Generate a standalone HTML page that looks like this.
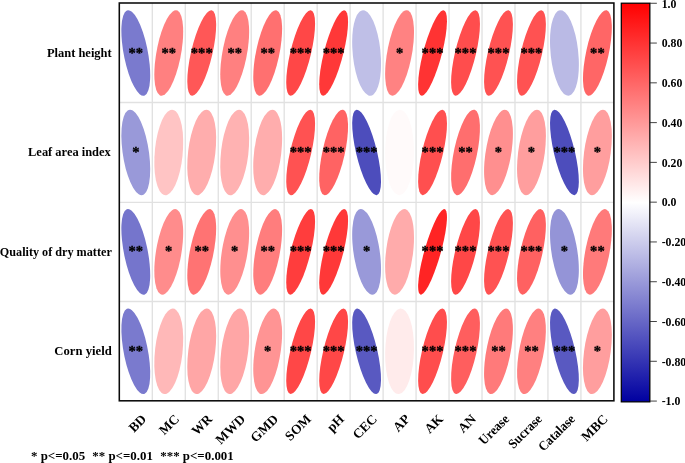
<!DOCTYPE html>
<html><head><meta charset="utf-8"><title>Correlation plot</title><style>html,body{margin:0;padding:0;background:#fff}body{width:685px;height:463px;overflow:hidden}</style></head><body>
<svg width="685" height="463" viewBox="0 0 685 463" style="display:block">
<rect width="685" height="463" fill="#fff"/>
<path d="M152.27 3.0V400.8M185.25 3.0V400.8M218.22 3.0V400.8M251.19 3.0V400.8M284.17 3.0V400.8M317.14 3.0V400.8M350.11 3.0V400.8M383.09 3.0V400.8M416.06 3.0V400.8M449.03 3.0V400.8M482.01 3.0V400.8M514.98 3.0V400.8M547.95 3.0V400.8M580.93 3.0V400.8" stroke="#dcdcdc" stroke-width="1.15" fill="none"/>
<path d="M119.3 102.55H613.9M119.3 202.35H613.9M119.3 301.50H613.9" stroke="#e1e1e1" stroke-width="1.4" fill="none"/>
<circle r="1" transform="matrix(7.067 -20.950 -12.576 -37.280 135.79 52.98)" fill="rgb(122,122,206)"/>
<circle r="1" transform="matrix(12.493 -37.034 -7.213 -21.382 168.76 52.98)" fill="rgb(255,128,128)"/>
<circle r="1" transform="matrix(13.123 -38.901 -5.991 -17.761 201.73 52.98)" fill="rgb(255,87,87)"/>
<circle r="1" transform="matrix(12.493 -37.034 -7.213 -21.382 234.71 52.98)" fill="rgb(255,128,128)"/>
<circle r="1" transform="matrix(12.741 -37.768 -6.766 -20.058 267.68 52.98)" fill="rgb(255,112,112)"/>
<circle r="1" transform="matrix(13.241 -39.252 -5.725 -16.971 300.65 52.98)" fill="rgb(255,71,71)"/>
<circle r="1" transform="matrix(13.417 -39.772 -5.300 -15.712 333.63 52.98)" fill="rgb(255,56,56)"/>
<circle r="1" transform="matrix(8.834 -26.187 -11.405 -33.808 366.60 52.98)" fill="rgb(191,191,231)"/>
<circle r="1" transform="matrix(12.451 -36.911 -7.285 -21.595 399.57 52.98)" fill="rgb(255,130,130)"/>
<circle r="1" transform="matrix(13.494 -40.002 -5.100 -15.119 432.55 52.98)" fill="rgb(255,51,51)"/>
<circle r="1" transform="matrix(13.202 -39.135 -5.815 -17.239 465.52 52.98)" fill="rgb(255,77,77)"/>
<circle r="1" transform="matrix(13.162 -39.018 -5.904 -17.502 498.49 52.98)" fill="rgb(255,82,82)"/>
<circle r="1" transform="matrix(13.162 -39.018 -5.904 -17.502 531.47 52.98)" fill="rgb(255,82,82)"/>
<circle r="1" transform="matrix(8.715 -25.836 -11.495 -34.077 564.44 52.98)" fill="rgb(186,186,229)"/>
<circle r="1" transform="matrix(12.903 -38.249 -6.451 -19.124 597.41 52.98)" fill="rgb(255,102,102)"/>
<circle r="1" transform="matrix(7.901 -23.423 -12.070 -35.779 135.79 152.43)" fill="rgb(153,153,217)"/>
<circle r="1" transform="matrix(11.313 -33.536 -8.951 -26.534 168.76 152.43)" fill="rgb(255,196,196)"/>
<circle r="1" transform="matrix(11.720 -34.741 -8.412 -24.935 201.73 152.43)" fill="rgb(255,173,173)"/>
<circle r="1" transform="matrix(11.630 -34.477 -8.534 -25.299 234.71 152.43)" fill="rgb(255,178,178)"/>
<circle r="1" transform="matrix(11.720 -34.741 -8.412 -24.935 267.68 152.43)" fill="rgb(255,173,173)"/>
<circle r="1" transform="matrix(13.162 -39.018 -5.904 -17.502 300.65 152.43)" fill="rgb(255,82,82)"/>
<circle r="1" transform="matrix(12.943 -38.368 -6.370 -18.884 333.63 152.43)" fill="rgb(255,99,99)"/>
<circle r="1" transform="matrix(5.815 -17.239 -13.202 -39.135 366.60 152.43)" fill="rgb(77,77,188)"/>
<circle r="1" transform="matrix(10.302 -30.539 -10.098 -29.934 399.57 152.43)" fill="rgb(255,250,250)"/>
<circle r="1" transform="matrix(13.182 -39.077 -5.860 -17.371 432.55 152.43)" fill="rgb(255,79,79)"/>
<circle r="1" transform="matrix(12.781 -37.889 -6.689 -19.829 465.52 152.43)" fill="rgb(255,110,110)"/>
<circle r="1" transform="matrix(12.241 -36.286 -7.633 -22.628 498.49 152.43)" fill="rgb(255,143,143)"/>
<circle r="1" transform="matrix(11.983 -35.522 -8.032 -23.810 531.47 152.43)" fill="rgb(255,158,158)"/>
<circle r="1" transform="matrix(5.815 -17.239 -13.202 -39.135 564.44 152.43)" fill="rgb(77,77,188)"/>
<circle r="1" transform="matrix(11.983 -35.522 -8.032 -23.810 597.41 152.43)" fill="rgb(255,158,158)"/>
<circle r="1" transform="matrix(6.918 -20.509 -12.659 -37.525 135.79 251.88)" fill="rgb(117,117,204)"/>
<circle r="1" transform="matrix(12.283 -36.412 -7.565 -22.425 168.76 251.88)" fill="rgb(255,140,140)"/>
<circle r="1" transform="matrix(12.700 -37.646 -6.843 -20.285 201.73 251.88)" fill="rgb(255,115,115)"/>
<circle r="1" transform="matrix(12.241 -36.286 -7.633 -22.628 234.71 251.88)" fill="rgb(255,143,143)"/>
<circle r="1" transform="matrix(12.535 -37.158 -7.140 -21.167 267.68 251.88)" fill="rgb(255,125,125)"/>
<circle r="1" transform="matrix(13.339 -39.542 -5.493 -16.284 300.65 251.88)" fill="rgb(255,61,61)"/>
<circle r="1" transform="matrix(13.417 -39.772 -5.300 -15.712 333.63 251.88)" fill="rgb(255,56,56)"/>
<circle r="1" transform="matrix(7.901 -23.423 -12.070 -35.779 366.60 251.88)" fill="rgb(153,153,217)"/>
<circle r="1" transform="matrix(11.764 -34.873 -8.350 -24.751 399.57 251.88)" fill="rgb(255,171,171)"/>
<circle r="1" transform="matrix(13.724 -40.682 -4.446 -13.181 432.55 251.88)" fill="rgb(255,36,36)"/>
<circle r="1" transform="matrix(13.241 -39.252 -5.725 -16.971 465.52 251.88)" fill="rgb(255,71,71)"/>
<circle r="1" transform="matrix(13.162 -39.018 -5.904 -17.502 498.49 251.88)" fill="rgb(255,82,82)"/>
<circle r="1" transform="matrix(12.983 -38.487 -6.288 -18.640 531.47 251.88)" fill="rgb(255,97,97)"/>
<circle r="1" transform="matrix(7.769 -23.029 -12.155 -36.033 564.44 251.88)" fill="rgb(148,148,215)"/>
<circle r="1" transform="matrix(12.576 -37.280 -7.067 -20.950 597.41 251.88)" fill="rgb(255,122,122)"/>
<circle r="1" transform="matrix(7.067 -20.950 -12.576 -37.280 135.79 351.32)" fill="rgb(122,122,206)"/>
<circle r="1" transform="matrix(11.541 -34.211 -8.655 -25.658 168.76 351.32)" fill="rgb(255,184,184)"/>
<circle r="1" transform="matrix(11.852 -35.134 -8.224 -24.379 201.73 351.32)" fill="rgb(255,166,166)"/>
<circle r="1" transform="matrix(11.852 -35.134 -8.224 -24.379 234.71 351.32)" fill="rgb(255,166,166)"/>
<circle r="1" transform="matrix(12.155 -36.033 -7.769 -23.029 267.68 351.32)" fill="rgb(255,148,148)"/>
<circle r="1" transform="matrix(13.241 -39.252 -5.725 -16.971 300.65 351.32)" fill="rgb(255,71,71)"/>
<circle r="1" transform="matrix(13.241 -39.252 -5.725 -16.971 333.63 351.32)" fill="rgb(255,71,71)"/>
<circle r="1" transform="matrix(6.035 -17.889 -13.103 -38.842 366.60 351.32)" fill="rgb(89,89,193)"/>
<circle r="1" transform="matrix(10.601 -31.425 -9.784 -29.004 399.57 351.32)" fill="rgb(255,235,235)"/>
<circle r="1" transform="matrix(13.202 -39.135 -5.815 -17.239 432.55 351.32)" fill="rgb(255,77,77)"/>
<circle r="1" transform="matrix(13.023 -38.606 -6.205 -18.393 465.52 351.32)" fill="rgb(255,94,94)"/>
<circle r="1" transform="matrix(12.576 -37.280 -7.067 -20.950 498.49 351.32)" fill="rgb(255,122,122)"/>
<circle r="1" transform="matrix(12.493 -37.034 -7.213 -21.382 531.47 351.32)" fill="rgb(255,128,128)"/>
<circle r="1" transform="matrix(6.035 -17.889 -13.103 -38.842 564.44 351.32)" fill="rgb(89,89,193)"/>
<circle r="1" transform="matrix(11.983 -35.522 -8.032 -23.810 597.41 351.32)" fill="rgb(255,158,158)"/>
<rect x="119.3" y="3.0" width="494.60" height="397.80" fill="none" stroke="#0a0a0a" stroke-width="1.55"/>
<g font-family="'Liberation Serif',serif" font-weight="bold" fill="#000">
<text x="135.79" y="57.58" font-size="14.6" text-anchor="middle" stroke="#000" stroke-width="0.35">**</text>
<text x="168.76" y="57.58" font-size="14.6" text-anchor="middle" stroke="#000" stroke-width="0.35">**</text>
<text x="201.73" y="57.58" font-size="14.6" text-anchor="middle" stroke="#000" stroke-width="0.35">***</text>
<text x="234.71" y="57.58" font-size="14.6" text-anchor="middle" stroke="#000" stroke-width="0.35">**</text>
<text x="267.68" y="57.58" font-size="14.6" text-anchor="middle" stroke="#000" stroke-width="0.35">**</text>
<text x="300.65" y="57.58" font-size="14.6" text-anchor="middle" stroke="#000" stroke-width="0.35">***</text>
<text x="333.63" y="57.58" font-size="14.6" text-anchor="middle" stroke="#000" stroke-width="0.35">***</text>
<text x="399.57" y="57.58" font-size="14.6" text-anchor="middle" stroke="#000" stroke-width="0.35">*</text>
<text x="432.55" y="57.58" font-size="14.6" text-anchor="middle" stroke="#000" stroke-width="0.35">***</text>
<text x="465.52" y="57.58" font-size="14.6" text-anchor="middle" stroke="#000" stroke-width="0.35">***</text>
<text x="498.49" y="57.58" font-size="14.6" text-anchor="middle" stroke="#000" stroke-width="0.35">***</text>
<text x="531.47" y="57.58" font-size="14.6" text-anchor="middle" stroke="#000" stroke-width="0.35">***</text>
<text x="597.41" y="57.58" font-size="14.6" text-anchor="middle" stroke="#000" stroke-width="0.35">**</text>
<text x="135.79" y="157.03" font-size="14.6" text-anchor="middle" stroke="#000" stroke-width="0.35">*</text>
<text x="300.65" y="157.03" font-size="14.6" text-anchor="middle" stroke="#000" stroke-width="0.35">***</text>
<text x="333.63" y="157.03" font-size="14.6" text-anchor="middle" stroke="#000" stroke-width="0.35">***</text>
<text x="366.60" y="157.03" font-size="14.6" text-anchor="middle" stroke="#000" stroke-width="0.35">***</text>
<text x="432.55" y="157.03" font-size="14.6" text-anchor="middle" stroke="#000" stroke-width="0.35">***</text>
<text x="465.52" y="157.03" font-size="14.6" text-anchor="middle" stroke="#000" stroke-width="0.35">**</text>
<text x="498.49" y="157.03" font-size="14.6" text-anchor="middle" stroke="#000" stroke-width="0.35">*</text>
<text x="531.47" y="157.03" font-size="14.6" text-anchor="middle" stroke="#000" stroke-width="0.35">*</text>
<text x="564.44" y="157.03" font-size="14.6" text-anchor="middle" stroke="#000" stroke-width="0.35">***</text>
<text x="597.41" y="157.03" font-size="14.6" text-anchor="middle" stroke="#000" stroke-width="0.35">*</text>
<text x="135.79" y="256.48" font-size="14.6" text-anchor="middle" stroke="#000" stroke-width="0.35">**</text>
<text x="168.76" y="256.48" font-size="14.6" text-anchor="middle" stroke="#000" stroke-width="0.35">*</text>
<text x="201.73" y="256.48" font-size="14.6" text-anchor="middle" stroke="#000" stroke-width="0.35">**</text>
<text x="234.71" y="256.48" font-size="14.6" text-anchor="middle" stroke="#000" stroke-width="0.35">*</text>
<text x="267.68" y="256.48" font-size="14.6" text-anchor="middle" stroke="#000" stroke-width="0.35">**</text>
<text x="300.65" y="256.48" font-size="14.6" text-anchor="middle" stroke="#000" stroke-width="0.35">***</text>
<text x="333.63" y="256.48" font-size="14.6" text-anchor="middle" stroke="#000" stroke-width="0.35">***</text>
<text x="366.60" y="256.48" font-size="14.6" text-anchor="middle" stroke="#000" stroke-width="0.35">*</text>
<text x="432.55" y="256.48" font-size="14.6" text-anchor="middle" stroke="#000" stroke-width="0.35">***</text>
<text x="465.52" y="256.48" font-size="14.6" text-anchor="middle" stroke="#000" stroke-width="0.35">***</text>
<text x="498.49" y="256.48" font-size="14.6" text-anchor="middle" stroke="#000" stroke-width="0.35">***</text>
<text x="531.47" y="256.48" font-size="14.6" text-anchor="middle" stroke="#000" stroke-width="0.35">***</text>
<text x="564.44" y="256.48" font-size="14.6" text-anchor="middle" stroke="#000" stroke-width="0.35">*</text>
<text x="597.41" y="256.48" font-size="14.6" text-anchor="middle" stroke="#000" stroke-width="0.35">**</text>
<text x="135.79" y="355.93" font-size="14.6" text-anchor="middle" stroke="#000" stroke-width="0.35">**</text>
<text x="267.68" y="355.93" font-size="14.6" text-anchor="middle" stroke="#000" stroke-width="0.35">*</text>
<text x="300.65" y="355.93" font-size="14.6" text-anchor="middle" stroke="#000" stroke-width="0.35">***</text>
<text x="333.63" y="355.93" font-size="14.6" text-anchor="middle" stroke="#000" stroke-width="0.35">***</text>
<text x="366.60" y="355.93" font-size="14.6" text-anchor="middle" stroke="#000" stroke-width="0.35">***</text>
<text x="432.55" y="355.93" font-size="14.6" text-anchor="middle" stroke="#000" stroke-width="0.35">***</text>
<text x="465.52" y="355.93" font-size="14.6" text-anchor="middle" stroke="#000" stroke-width="0.35">***</text>
<text x="498.49" y="355.93" font-size="14.6" text-anchor="middle" stroke="#000" stroke-width="0.35">**</text>
<text x="531.47" y="355.93" font-size="14.6" text-anchor="middle" stroke="#000" stroke-width="0.35">**</text>
<text x="564.44" y="355.93" font-size="14.6" text-anchor="middle" stroke="#000" stroke-width="0.35">***</text>
<text x="597.41" y="355.93" font-size="14.6" text-anchor="middle" stroke="#000" stroke-width="0.35">*</text>
<text transform="translate(111.7,56.93) scale(0.96,1)" font-size="13" text-anchor="end">Plant height</text>
<text transform="translate(110.8,156.38) scale(0.958,1)" font-size="13" text-anchor="end">Leaf area index</text>
<text transform="translate(111.8,255.82) scale(0.9375,1)" font-size="13" text-anchor="end">Quality of dry matter</text>
<text transform="translate(111.7,355.27) scale(0.975,1)" font-size="13" text-anchor="end">Corn yield</text>
<text transform="translate(147.09,419.8) rotate(-45) scale(1,1)" font-size="13.4" text-anchor="end">BD</text>
<text transform="translate(180.06,419.8) rotate(-45) scale(1,1)" font-size="13.4" text-anchor="end">MC</text>
<text transform="translate(213.03,419.8) rotate(-45) scale(1,1)" font-size="13.4" text-anchor="end">WR</text>
<text transform="translate(246.01,419.8) rotate(-45) scale(1,1)" font-size="13.4" text-anchor="end">MWD</text>
<text transform="translate(278.98,419.8) rotate(-45) scale(1,1)" font-size="13.4" text-anchor="end">GMD</text>
<text transform="translate(311.95,419.8) rotate(-45) scale(1,1)" font-size="13.4" text-anchor="end">SOM</text>
<text transform="translate(344.93,419.8) rotate(-45) scale(1,1)" font-size="13.4" text-anchor="end">pH</text>
<text transform="translate(377.90,419.8) rotate(-45) scale(1,1)" font-size="13.4" text-anchor="end">CEC</text>
<text transform="translate(410.87,419.8) rotate(-45) scale(1,1)" font-size="13.4" text-anchor="end">AP</text>
<text transform="translate(443.85,419.8) rotate(-45) scale(1,1)" font-size="13.4" text-anchor="end">AK</text>
<text transform="translate(476.82,419.8) rotate(-45) scale(1,1)" font-size="13.4" text-anchor="end">AN</text>
<text transform="translate(509.79,419.8) rotate(-45) scale(0.93,1)" font-size="13.4" text-anchor="end">Urease</text>
<text transform="translate(542.77,419.8) rotate(-45) scale(0.93,1)" font-size="13.4" text-anchor="end">Sucrase</text>
<text transform="translate(575.74,419.8) rotate(-45) scale(0.93,1)" font-size="13.4" text-anchor="end">Catalase</text>
<text transform="translate(608.71,419.8) rotate(-45) scale(1,1)" font-size="13.4" text-anchor="end">MBC</text>
<text y="459.9" font-size="12.9"><tspan x="31.0">* p&lt;=0.05 </tspan><tspan x="92.3">** p&lt;=0.01 </tspan><tspan x="160.3">*** p&lt;=0.001</tspan></text>
<defs><linearGradient id="cb" x1="0" y1="0" x2="0" y2="1"><stop offset="0" stop-color="rgb(255,0,0)"/><stop offset="0.5" stop-color="#fff"/><stop offset="1" stop-color="rgb(0,0,160)"/></linearGradient></defs>
<rect x="621.3" y="3.2" width="28.55" height="398.65" fill="url(#cb)" stroke="#000" stroke-width="1.25"/>
<text x="661.7" y="7.52" font-size="11.8">1.0</text>
<text x="661.7" y="47.30" font-size="11.8">0.80</text>
<text x="661.7" y="87.08" font-size="11.8">0.60</text>
<text x="661.7" y="126.86" font-size="11.8">0.40</text>
<text x="661.7" y="166.64" font-size="11.8">0.20</text>
<text x="661.7" y="206.42" font-size="11.8">0.0</text>
<text x="661.7" y="246.20" font-size="11.8">-0.20</text>
<text x="661.7" y="285.98" font-size="11.8">-0.40</text>
<text x="661.7" y="325.76" font-size="11.8">-0.60</text>
<text x="661.7" y="365.54" font-size="11.8">-0.80</text>
<text x="661.7" y="405.32" font-size="11.8">-1.0</text>
<path d="M649.85 3.27H656.85M649.85 43.05H656.85M649.85 82.83H656.85M649.85 122.61H656.85M649.85 162.39H656.85M649.85 202.17H656.85M649.85 241.95H656.85M649.85 281.73H656.85M649.85 321.51H656.85M649.85 361.29H656.85M649.85 401.07H656.85" stroke="#222" stroke-width="0.85" fill="none"/>
</g>
</svg>
</body></html>
